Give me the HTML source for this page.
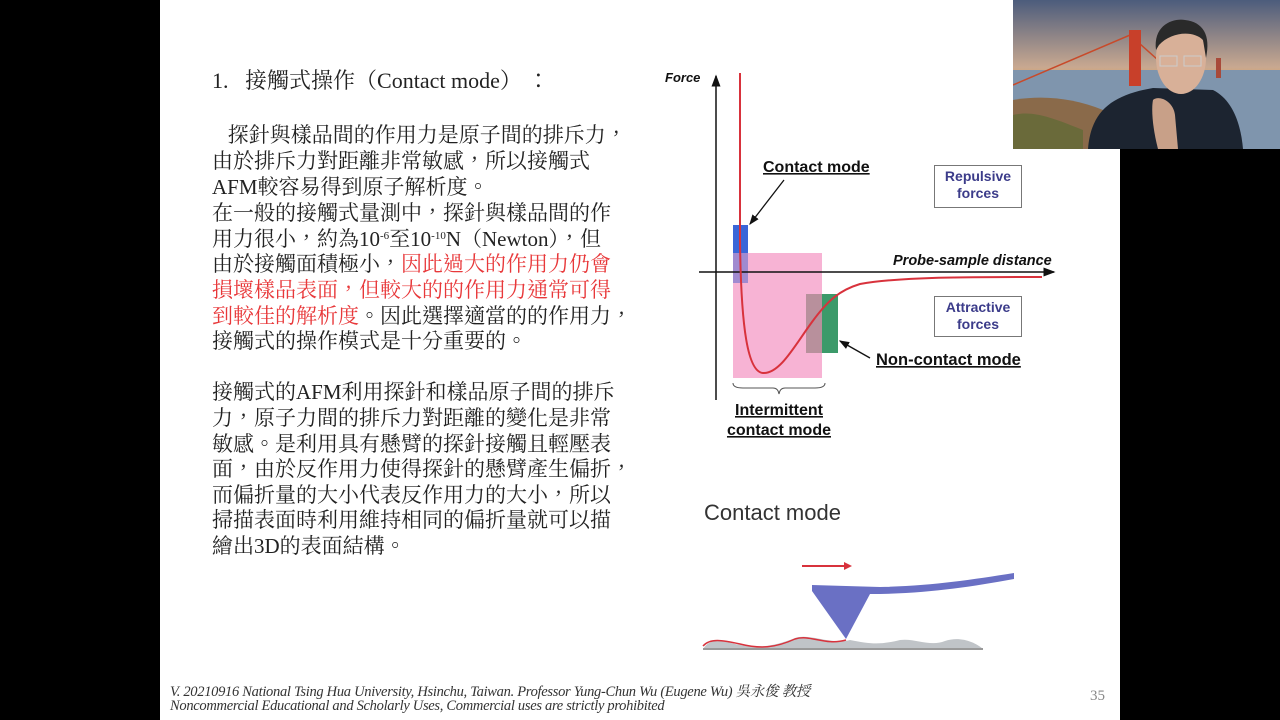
<!DOCTYPE html>
<html><head><meta charset="utf-8"><style>
body{margin:0;width:1280px;height:720px;background:#000;position:relative;overflow:hidden}
#slide{position:absolute;left:160px;top:0;width:960px;height:720px;background:#fff}
.t{position:absolute;left:212px;font-family:"Liberation Serif","Noto Serif CJK TC","Noto Serif CJK SC",serif;font-size:21px;line-height:24px;color:#222;white-space:nowrap}
.t b{font-weight:normal;font-family:"Noto Serif CJK TC","Noto Serif CJK SC",serif}
.r{color:#e8383a}
sup{font-size:11px;vertical-align:7px;line-height:0}
.f{position:absolute;left:170px;font-family:"Liberation Serif","Noto Serif CJK TC",serif;font-style:italic;font-size:14.5px;color:#333;white-space:nowrap;letter-spacing:-0.3px}
</style></head><body>
<div id="slide"></div>
<div class="t" style="top:68px;font-size:22px">1.&nbsp;&nbsp; 接觸式操作<b>（</b>Contact mode<b>）</b> <b>：</b></div>
<div class="t" style="top:122px">&nbsp;&nbsp; 探針與樣品間的作用力是原子間的排斥力<b>，</b></div>
<div class="t" style="top:148px">由於排斥力對距離非常敏感<b>，</b>所以接觸式</div>
<div class="t" style="top:174px">AFM較容易得到原子解析度<b>。</b></div>
<div class="t" style="top:200px">在一般的接觸式量測中<b>，</b>探針與樣品間的作</div>
<div class="t" style="top:226px">用力很小<b>，</b>約為10<sup>-6</sup>至10<sup>-10</sup>N<b>（</b>Newton<b>）</b><b>，</b>但</div>
<div class="t" style="top:251px">由於接觸面積極小<b>，</b><span class="r">因此過大的作用力仍會</span></div>
<div class="t r" style="top:277px">損壞樣品表面<b>，</b>但較大的的作用力通常可得</div>
<div class="t" style="top:303px"><span class="r">到較佳的解析度</span><b>。</b>因此選擇適當的的作用力<b>，</b></div>
<div class="t" style="top:328px">接觸式的操作模式是十分重要的<b>。</b></div>
<div class="t" style="top:380px">接觸式的AFM利用探針和樣品原子間的排斥</div>
<div class="t" style="top:405px">力<b>，</b>原子力間的排斥力對距離的變化是非常</div>
<div class="t" style="top:431px">敏感<b>。</b>是利用具有懸臂的探針接觸且輕壓表</div>
<div class="t" style="top:456px">面<b>，</b>由於反作用力使得探針的懸臂產生偏折<b>，</b></div>
<div class="t" style="top:482px">而偏折量的大小代表反作用力的大小<b>，</b>所以</div>
<div class="t" style="top:508px">掃描表面時利用維持相同的偏折量就可以描</div>
<div class="t" style="top:533px">繪出3D的表面結構<b>。</b></div>
<div class="f" style="top:680px">V. 20210916 National Tsing Hua University, Hsinchu, Taiwan. Professor Yung-Chun Wu (Eugene Wu) 吳永俊 教授</div>
<div class="f" style="top:698px">Noncommercial Educational and Scholarly Uses, Commercial uses are strictly prohibited</div>
<div style="position:absolute;left:1090px;top:688px;font:15px 'Liberation Serif',serif;color:#888">35</div>

<svg style="position:absolute;left:0;top:0" width="1280" height="720" font-family="Liberation Sans,Arial,sans-serif">
<defs><marker id="a" markerWidth="8" markerHeight="8" refX="7" refY="4" orient="auto"><path d="M0,1 L8,4 L0,7z" fill="#111"/></marker></defs>
<rect x="733" y="253" width="89" height="125" fill="#f7b3d4"/>
<rect x="733" y="225" width="15" height="28" fill="#3a66d8"/>
<rect x="733" y="253" width="15" height="30" fill="#a08ad0"/>
<rect x="822" y="294" width="16" height="59" fill="#3c9a6a"/>
<rect x="806" y="294" width="16" height="59" fill="#b8909c"/>
<line x1="716" y1="400" x2="716" y2="76" stroke="#111" stroke-width="1.5" marker-end="url(#a)"/>
<line x1="699" y1="272" x2="1054" y2="272" stroke="#111" stroke-width="1.5" marker-end="url(#a)"/>
<path d="M740,73 L740,240 C741,330 748,372 763,373 C780,374 795,345 812,322 C828,300 840,290 860,284 C900,277 960,277 1042,277" fill="none" stroke="#d8323c" stroke-width="2"/>
<text x="665" y="82" font-size="13" font-weight="bold" font-style="italic" fill="#111">Force</text>
<text x="893" y="265" font-size="14.5" font-weight="bold" font-style="italic" fill="#111">Probe-sample distance</text>
<text x="763" y="172" font-size="16" font-weight="bold" fill="#111" text-decoration="underline">Contact mode</text>
<line x1="784" y1="180" x2="750" y2="224" stroke="#111" stroke-width="1.3" marker-end="url(#a)"/>
<text x="876" y="365" font-size="16.5" font-weight="bold" fill="#111" text-decoration="underline">Non-contact mode</text>
<line x1="870" y1="358" x2="840" y2="341" stroke="#111" stroke-width="1.3" marker-end="url(#a)"/>
<path d="M733,383 q0,5 10,5 h30 q5,0 6,6 q1,-6 6,-6 h30 q10,0 10,-5" fill="none" stroke="#555" stroke-width="1"/>
<text x="779" y="415" font-size="16" font-weight="bold" fill="#111" text-anchor="middle" text-decoration="underline">Intermittent</text>
<text x="779" y="435" font-size="16" font-weight="bold" fill="#111" text-anchor="middle" text-decoration="underline">contact mode</text>
<rect x="934.5" y="165.5" width="87" height="42" fill="#fff" stroke="#777"/>
<text x="978" y="181" font-size="14" font-weight="bold" fill="#3c3c8a" text-anchor="middle">Repulsive</text>
<text x="978" y="198" font-size="14" font-weight="bold" fill="#3c3c8a" text-anchor="middle">forces</text>
<rect x="934.5" y="296.5" width="87" height="40" fill="#fff" stroke="#777"/>
<text x="978" y="312" font-size="14" font-weight="bold" fill="#3c3c8a" text-anchor="middle">Attractive</text>
<text x="978" y="329" font-size="14" font-weight="bold" fill="#3c3c8a" text-anchor="middle">forces</text>
<text x="704" y="520" font-size="22" fill="#333">Contact mode</text>
<line x1="802" y1="566" x2="846" y2="566" stroke="#d8323c" stroke-width="2"/>
<path d="M844,562 L852,566 L844,570z" fill="#d8323c"/>
<path d="M703,649 C710,638 720,640 735,644 C755,648 770,648 795,638 C810,633 830,645 850,640 C870,644 880,645 900,640 C915,638 930,647 945,641 C960,636 975,642 983,649 Z" fill="#c0c4c8"/>
<line x1="703" y1="649" x2="983" y2="649" stroke="#999" stroke-width="2"/>
<path d="M703,646 C710,638 722,640 740,644 C760,649 775,648 795,639 C810,634 825,646 846,640" fill="none" stroke="#d8323c" stroke-width="1.5"/>
<path d="M812,585 L880,587 C930,586 970,580 1014,573 L1014,579 C970,587 930,593 880,594 L870,594 L846,639 L812,591 Z" fill="#6a70c4"/>
</svg>

<svg style="position:absolute;left:1013px;top:0" width="267" height="149">
<defs><linearGradient id="sky" x1="0" y1="0" x2="0" y2="1">
<stop offset="0" stop-color="#4c5c7c"/><stop offset="0.45" stop-color="#c8a890"/><stop offset="0.62" stop-color="#f0a040"/><stop offset="0.7" stop-color="#8a9aaa"/><stop offset="1" stop-color="#6a8aa8"/></linearGradient></defs>
<rect width="267" height="149" fill="url(#sky)"/>
<rect x="0" y="70" width="267" height="79" fill="#7f95ad"/>
<path d="M0,100 C30,95 60,98 90,110 L90,149 L0,149z" fill="#8a6a4a"/>
<path d="M0,115 C20,110 40,118 70,130 L70,149 L0,149z" fill="#6a6a3a"/>
<path d="M0,85 L117,35 L145,60" fill="none" stroke="#c84a2a" stroke-width="1.5"/>
<rect x="116" y="30" width="12" height="56" fill="#c8402a"/>
<rect x="203" y="58" width="5" height="20" fill="#a84a3a"/>
<path d="M75,149 C78,110 100,95 140,88 L200,90 C220,100 228,125 230,149z" fill="#1c2430"/>
<ellipse cx="168" cy="58" rx="25" ry="36" fill="#d8b098"/>
<path d="M143,50 C140,25 160,18 172,20 C190,22 198,35 193,58 L190,40 C180,30 158,32 146,45z" fill="#2a2a2a"/>
<rect x="147" y="56" width="17" height="10" fill="none" stroke="#ccc" stroke-width="1"/>
<rect x="171" y="56" width="17" height="10" fill="none" stroke="#ccc" stroke-width="1"/>
<path d="M140,100 C145,95 160,100 162,115 L165,149 L145,149 C140,130 138,110 140,100z" fill="#c8a088"/>
</svg>
</body></html>
